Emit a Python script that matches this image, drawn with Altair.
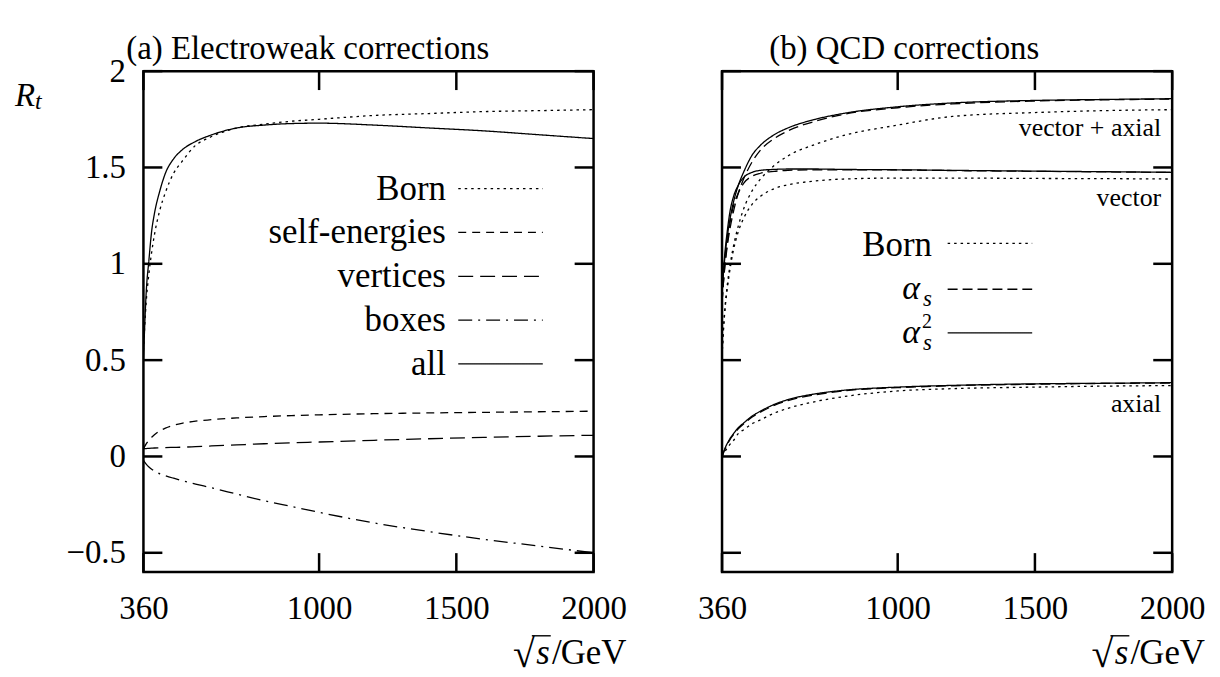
import altair as alt
import pandas as pd

# ---------------- data: (a) electroweak corrections ----------------
ew_x = [360, 370, 380, 390, 400, 420, 440, 470, 500, 550, 600, 700, 800, 900, 1000, 1200, 1400, 1600, 1800, 2000]
ew_born = [0.55, 0.80, 0.95, 1.06, 1.15, 1.28, 1.37, 1.47, 1.53, 1.615, 1.655, 1.705, 1.725, 1.74, 1.75, 1.77, 1.78, 1.79, 1.795, 1.80]
ew_self = [0.04, 0.065, 0.085, 0.10, 0.113, 0.133, 0.147, 0.162, 0.172, 0.183, 0.19, 0.2, 0.207, 0.212, 0.216, 0.222, 0.226, 0.229, 0.232, 0.235]
ew_vert = [0.04, 0.041, 0.042, 0.043, 0.044, 0.045, 0.046, 0.047, 0.048, 0.051, 0.054, 0.06, 0.066, 0.071, 0.075, 0.084, 0.092, 0.099, 0.105, 0.11]
ew_box = [-0.02, -0.04, -0.055, -0.066, -0.075, -0.09, -0.10, -0.113, -0.125, -0.143, -0.16, -0.195, -0.23, -0.26, -0.29, -0.345, -0.39, -0.43, -0.465, -0.50]
ew_all = [0.50, 0.85, 1.02, 1.17, 1.26, 1.38, 1.47, 1.545, 1.59, 1.635, 1.665, 1.705, 1.72, 1.728, 1.73, 1.72, 1.705, 1.69, 1.67, 1.65]

ew_series = ["Born", "self-energies", "vertices", "boxes", "all"]
ew_dashes = [[2.5, 4], [8, 6], [15, 7], [14, 6, 2, 6], [1, 0]]
ew_leg_y = [1.39, 1.163, 0.935, 0.708, 0.481]
ew_leg_text_x = 1462
ew_leg_line_x = [1507, 1815]

# ---------------- data: (b) QCD corrections ----------------
qx = [360, 365, 370, 380, 390, 400, 420, 440, 470, 500, 550, 600, 700, 800, 1000, 1200, 1500, 1750, 2000]
va_born = [0.52, 0.66, 0.76, 0.90, 1.00, 1.08, 1.20, 1.29, 1.38, 1.44, 1.51, 1.56, 1.62, 1.665, 1.72, 1.765, 1.785, 1.795, 1.80]
va_as = [0.80, 0.90, 0.98, 1.10, 1.19, 1.26, 1.37, 1.445, 1.53, 1.59, 1.65, 1.69, 1.74, 1.775, 1.81, 1.83, 1.845, 1.851, 1.855]
va_as2 = [0.85, 0.95, 1.03, 1.15, 1.24, 1.31, 1.41, 1.48, 1.565, 1.615, 1.67, 1.705, 1.75, 1.78, 1.815, 1.835, 1.848, 1.853, 1.857]
v_born = [0.52, 0.65, 0.75, 0.88, 0.98, 1.06, 1.17, 1.24, 1.31, 1.35, 1.39, 1.41, 1.43, 1.44, 1.445, 1.445, 1.443, 1.442, 1.44]
v_as = [0.80, 0.90, 0.99, 1.12, 1.22, 1.29, 1.37, 1.42, 1.455, 1.47, 1.48, 1.485, 1.488, 1.488, 1.487, 1.484, 1.48, 1.477, 1.474]
v_as2 = [0.85, 0.96, 1.05, 1.18, 1.28, 1.34, 1.41, 1.45, 1.475, 1.485, 1.49, 1.492, 1.492, 1.49, 1.488, 1.485, 1.481, 1.478, 1.475]
a_born = [0.0, 0.012, 0.025, 0.045, 0.065, 0.08, 0.12, 0.14, 0.17, 0.19, 0.225, 0.25, 0.285, 0.31, 0.34, 0.352, 0.36, 0.365, 0.368]
a_as = [0.0, 0.018, 0.036, 0.065, 0.09, 0.11, 0.145, 0.17, 0.205, 0.23, 0.265, 0.29, 0.32, 0.34, 0.357, 0.367, 0.375, 0.379, 0.381]
a_as2 = [0.0, 0.02, 0.04, 0.07, 0.095, 0.115, 0.15, 0.175, 0.21, 0.235, 0.27, 0.295, 0.325, 0.343, 0.36, 0.369, 0.377, 0.38, 0.383]

qcd_orders = ["Born", "as", "as2"]
qcd_dashes = [[2.5, 4], [10, 5], [1, 0]]
qcd_groups = ["vector + axial", "vector", "axial"]
qcd_group_label_y = [1.664, 1.302, 0.233]
qcd_group_label_x = 1960
qcd_leg_y = [1.106, 0.868, 0.641]
qcd_leg_text_x = 1125
qcd_leg_line_x = [1182, 1490]

x_ticks = [360, 1000, 1500, 2000]
y_ticks = [-0.5, 0, 0.5, 1, 1.5, 2]

# ---------------- styling ----------------
W, H = 452, 503
TICK = 19
FONT = "Liberation Serif"
FS = 33
LEG_FS = 35

x_scale = alt.Scale(domain=[360, 2000], nice=False, zero=False)
y_scale = alt.Scale(domain=[-0.6, 2.0], nice=False, zero=False)

x_axis = alt.Axis(values=x_ticks, format="d", title=None, ticks=False, domain=False, grid=False,
                  labelFont=FONT, labelFontSize=FS, labelColor="black", labelPadding=21,
                  labelFlush=False, labelOverlap=False)
y_axis_l = alt.Axis(values=y_ticks, format="~g", title=None, ticks=False, domain=False, grid=False,
                    labelFont=FONT, labelFontSize=FS, labelColor="black", labelPadding=18,
                    labelFlush=False, labelOverlap=False)
y_axis_r = alt.Axis(values=y_ticks, title=None, ticks=False, domain=False, grid=False, labels=False)


def X(field, axis):
    return alt.X(field, scale=x_scale, axis=axis)


def Y(field, axis):
    return alt.Y(field, scale=y_scale, axis=axis)


def frame_ticks(y_axis):
    ydf = pd.DataFrame({"v": y_ticks})
    xdf = pd.DataFrame({"v": x_ticks})
    common = dict(color="black", strokeWidth=2.5)
    yl = alt.Chart(ydf).mark_rule(**common).encode(
        y=Y("v:Q", y_axis), x=alt.value(0), x2=alt.value(TICK))
    yr = alt.Chart(ydf).mark_rule(**common).encode(
        y=Y("v:Q", y_axis), x=alt.value(W - TICK), x2=alt.value(W))
    xb = alt.Chart(xdf).mark_rule(**common).encode(
        x=X("v:Q", x_axis), y=alt.value(H), y2=alt.value(H - TICK))
    xt = alt.Chart(xdf).mark_rule(**common).encode(
        x=X("v:Q", x_axis), y=alt.value(0), y2=alt.value(TICK))
    return [yl, yr, xb, xt]


one = pd.DataFrame({"k": [0]})


def const_text(text, x, y, size=FS, italic=False, align="right", baseline="alphabetic"):
    kw = dict(text=text, align=align, baseline=baseline, font=FONT, fontSize=size, color="black")
    if italic:
        kw["fontStyle"] = "italic"
    return alt.Chart(one).mark_text(**kw).encode(x=alt.value(x), y=alt.value(y))


def sqrt_s_label():
    gev = const_text("GeV", 485, 595, size=35)
    slash = const_text("/", 420, 595, size=35)
    s = const_text("s", 408, 595, size=35, italic=True)
    root = const_text("√", 393, 598, size=40)
    bar = alt.Chart(one).mark_rule(color="black", strokeWidth=1.4).encode(
        x=alt.value(390), x2=alt.value(409), y=alt.value(567))
    return [gev, slash, s, root, bar]


# ---------------- panel (a) ----------------
rows = []
for name, ys in zip(ew_series, [ew_born, ew_self, ew_vert, ew_box, ew_all]):
    for xv, yv in zip(ew_x, ys):
        rows.append({"x": xv, "y": yv, "series": name})
df_ew = pd.DataFrame(rows)
dash_ew = alt.StrokeDash("series:N", scale=alt.Scale(domain=ew_series, range=ew_dashes), legend=None)

ew_lines = alt.Chart(df_ew).mark_line(color="black", strokeWidth=1.3, interpolate="monotone", clip=True).encode(
    x=X("x:Q", x_axis), y=Y("y:Q", y_axis_l), strokeDash=dash_ew,
)

ew_leg = pd.DataFrame({"series": ew_series, "y": ew_leg_y,
                       "x1": [ew_leg_line_x[0]] * 5, "x2": [ew_leg_line_x[1]] * 5,
                       "xt": [ew_leg_text_x] * 5})
ew_leg_lines = alt.Chart(ew_leg).mark_rule(color="black", strokeWidth=1.3).encode(
    x=X("x1:Q", x_axis), x2="x2:Q", y=Y("y:Q", y_axis_l), strokeDash=dash_ew)
ew_leg_text = alt.Chart(ew_leg).mark_text(align="right", baseline="middle", font=FONT, fontSize=LEG_FS,
                                          color="black").encode(
    x=X("xt:Q", x_axis), y=Y("y:Q", y_axis_l), text="series:N")

r_lbl = const_text("R", -129, 35, italic=True, align="left")
t_lbl = const_text("t", -109, 38, size=24, italic=True, align="left")
title_a = const_text("(a) Electroweak corrections", W / 2 - 61, -12, align="center")

left = alt.layer(ew_lines, ew_leg_lines, ew_leg_text, r_lbl, t_lbl, title_a,
                 *frame_ticks(y_axis_l), *sqrt_s_label()).properties(width=W, height=H)

# ---------------- panel (b) ----------------
rows = []
series_q = {
    ("vector + axial", "Born"): va_born, ("vector + axial", "as"): va_as, ("vector + axial", "as2"): va_as2,
    ("vector", "Born"): v_born, ("vector", "as"): v_as, ("vector", "as2"): v_as2,
    ("axial", "Born"): a_born, ("axial", "as"): a_as, ("axial", "as2"): a_as2,
}
for (grp, order), ys in series_q.items():
    for xv, yv in zip(qx, ys):
        rows.append({"x": xv, "y": yv, "order": order, "group": grp})
df_q = pd.DataFrame(rows)
dash_q = alt.StrokeDash("order:N", scale=alt.Scale(domain=qcd_orders, range=qcd_dashes), legend=None)

q_lines = alt.Chart(df_q).mark_line(color="black", strokeWidth=1.3, interpolate="monotone", clip=True).encode(
    x=X("x:Q", x_axis), y=Y("y:Q", y_axis_r), strokeDash=dash_q, detail="group:N",
)

grp_df = pd.DataFrame({"g": qcd_groups, "y": qcd_group_label_y, "x": [qcd_group_label_x] * 3})
grp_text = alt.Chart(grp_df).mark_text(align="right", baseline="alphabetic", font=FONT, fontSize=26,
                                       color="black").encode(
    x=X("x:Q", x_axis), y=Y("y:Q", y_axis_r), text="g:N")

q_leg = pd.DataFrame({"order": qcd_orders, "y": qcd_leg_y,
                      "x1": [qcd_leg_line_x[0]] * 3, "x2": [qcd_leg_line_x[1]] * 3,
                      "xt": [qcd_leg_text_x] * 3})
q_leg_lines = alt.Chart(q_leg).mark_rule(color="black", strokeWidth=1.3).encode(
    x=X("x1:Q", x_axis), x2="x2:Q", y=Y("y:Q", y_axis_r), strokeDash=dash_q)

born_df = q_leg.iloc[[0]]
alpha_df = q_leg.iloc[[1, 2]]
sq_df = q_leg.iloc[[2]]


def leg_txt(df, text, size, dx=0, dy=0, italic=False):
    kw = dict(text=text, align="right", baseline="middle", font=FONT, fontSize=size, dx=dx, dy=dy,
              color="black")
    if italic:
        kw["fontStyle"] = "italic"
    return alt.Chart(df).mark_text(**kw).encode(x=X("xt:Q", x_axis), y=Y("y:Q", y_axis_r))


born_txt = leg_txt(born_df, "Born", LEG_FS, dy=2)
alpha_txt = leg_txt(alpha_df, "α", 34, dx=-12, italic=True)
sub_txt = leg_txt(alpha_df, "s", 23, dy=10, italic=True)
sup_txt = leg_txt(sq_df, "2", 20, dy=-11)
title_b = const_text("(b) QCD corrections", W / 2 - 43, -12, align="center")

right = alt.layer(q_lines, grp_text, q_leg_lines, born_txt, alpha_txt, sub_txt, sup_txt, title_b,
                  *frame_ticks(y_axis_r), *sqrt_s_label()).properties(width=W, height=H)

chart = alt.hconcat(left, right, spacing=129, bounds="flush",
                    padding={"left": 5, "top": 22, "right": 5, "bottom": 5}).resolve_scale(
    strokeDash="independent").configure_view(stroke="black", strokeWidth=2.5)

chart.save("out.html", embed_options={"renderer": "svg", "actions": False})
